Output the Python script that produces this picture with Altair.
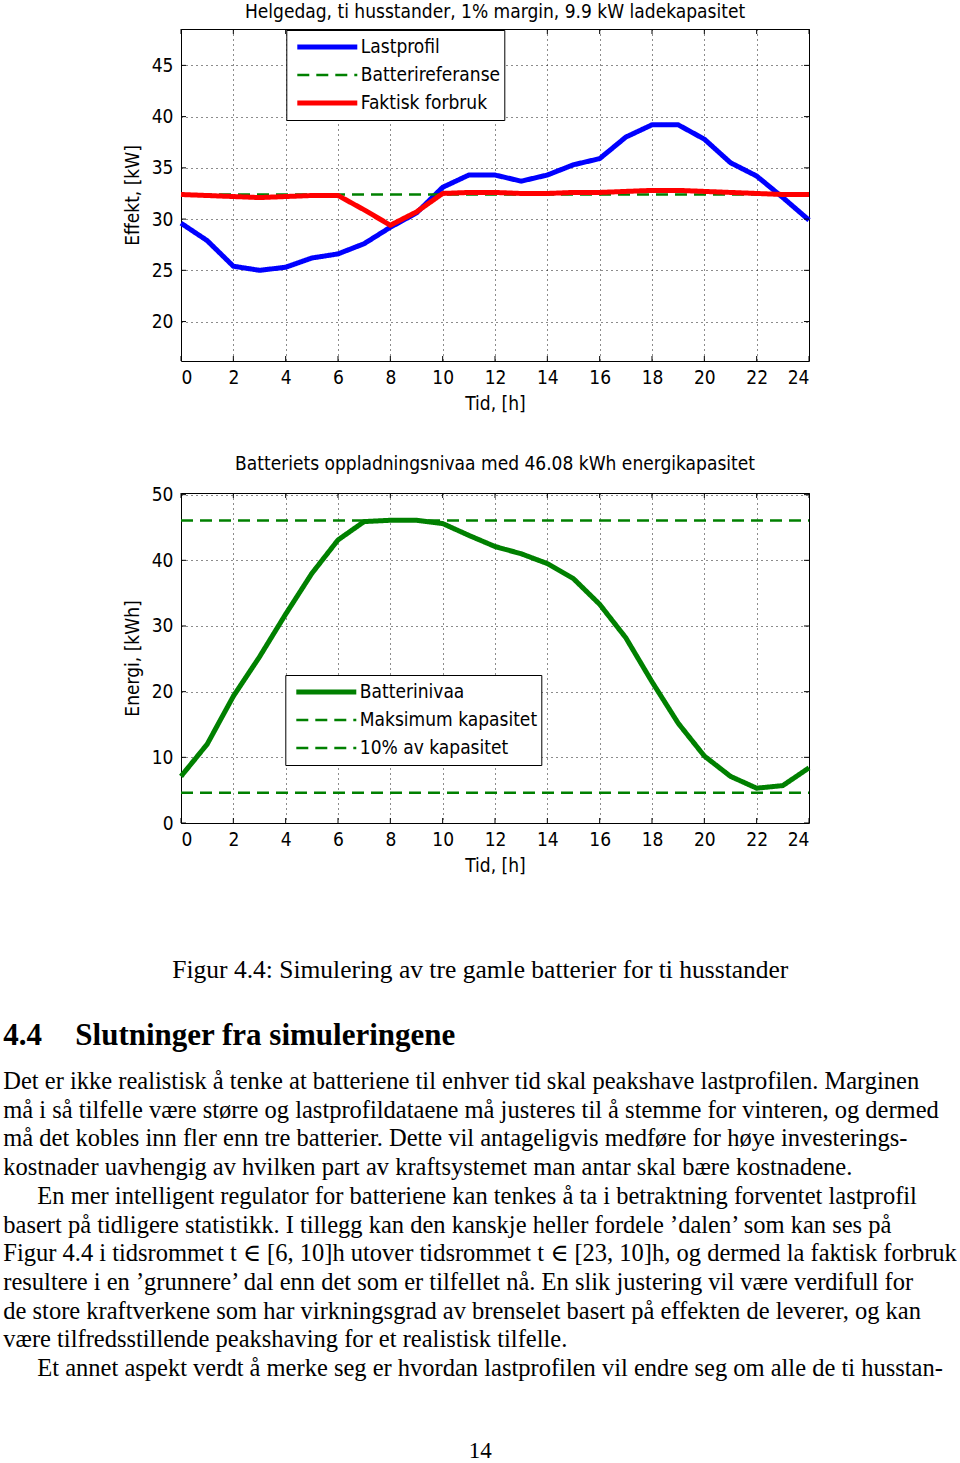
import altair as alt
import pandas as pd

# ---------------- data ----------------
hours = list(range(25))
lastprofil = [29.6, 27.9, 25.4, 25.0, 25.3, 26.2, 26.6, 27.6, 29.2, 30.6, 33.1, 34.3, 34.3,
              33.7, 34.3, 35.3, 35.9, 38.0, 39.2, 39.2, 37.8, 35.5, 34.2, 32.1, 29.9]
faktisk = [32.4, 32.3, 32.2, 32.1, 32.2, 32.3, 32.3, 30.9, 29.4, 30.7, 32.5, 32.6, 32.6,
           32.5, 32.5, 32.6, 32.6, 32.7, 32.8, 32.8, 32.7, 32.6, 32.5, 32.4, 32.4]
ref_hours = [0, 24]
batterireferanse = [32.4, 32.4]

batterinivaa = [7.1, 12.0, 19.3, 25.3, 31.8, 38.0, 43.1, 45.9, 46.1, 46.1, 45.6, 43.8, 42.1,
                41.0, 39.5, 37.2, 33.3, 28.2, 21.5, 15.2, 10.2, 7.1, 5.3, 5.7, 8.4]
maks_kap = [46.08, 46.08]
ti_prosent = [4.608, 4.608]

top_series = ["Lastprofil", "Batterireferanse", "Faktisk forbruk"]
bot_series = ["Batterinivaa", "Maksimum kapasitet", "10% av kapasitet"]

x_ticks = list(range(0, 25, 2))
top_y_ticks = [20, 25, 30, 35, 40, 45]
bot_y_ticks = [0, 10, 20, 30, 40, 50]

top_title = "Helgedag, ti husstander, 1% margin, 9.9 kW ladekapasitet"
bot_title = "Batteriets oppladningsnivaa med 46.08 kWh energikapasitet"

caption = "Figur 4.4: Simulering av tre gamle batterier for ti husstander"
heading_num = "4.4"
heading_txt = "Slutninger fra simuleringene"
para_lines = [
    "Det er ikke realistisk å tenke at batteriene til enhver tid skal peakshave lastprofilen. Marginen",
    "må i så tilfelle være større og lastprofildataene må justeres til å stemme for vinteren, og dermed",
    "må det kobles inn fler enn tre batterier. Dette vil antageligvis medføre for høye investerings-",
    "kostnader uavhengig av hvilken part av kraftsystemet man antar skal bære kostnadene.",
    "En mer intelligent regulator for batteriene kan tenkes å ta i betraktning forventet lastprofil",
    "basert på tidligere statistikk. I tillegg kan den kanskje heller fordele ’dalen’ som kan ses på",
    "Figur 4.4 i tidsrommet t ∈ [6, 10]h utover tidsrommet t ∈ [23, 10]h, og dermed la faktisk forbruk",
    "resultere i en ’grunnere’ dal enn det som er tilfellet nå. En slik justering vil være verdifull for",
    "de store kraftverkene som har virkningsgrad av brenselet basert på effekten de leverer, og kan",
    "være tilfredsstillende peakshaving for et realistisk tilfelle.",
    "Et annet aspekt verdt å merke seg er hvordan lastprofilen vil endre seg om alle de ti husstan-",
]
para_indent = [0, 0, 0, 0, 1, 0, 0, 0, 0, 0, 1]
page_number = "14"

# ---------------- styling ----------------
MFONT = "DejaVu Sans Condensed, Liberation Sans Narrow, sans-serif"
SERIF = "Liberation Serif, DejaVu Serif, serif"
FS = 19
W = 628
TICK = 5


def panel(df, series, colors, dashes, widths, ydom, yticks, ytitle, title, toff, h, lx, ly):
    thin = [s for s, w in zip(series, widths) if w < 4]
    width_expr = "(indexof(%s, datum.value) >= 0 ? 2.5 : 5)" % str(thin).replace("'", '"')
    leg = alt.Legend(
        title=None, orient="none", legendX=lx, legendY=ly,
        symbolType="stroke", symbolSize=3600, symbolOffset=4.5,
        symbolStrokeWidth={"expr": width_expr},
        labelFont=MFONT, labelFontSize=FS, labelColor="black", labelOffset=1,
        strokeColor="black", fillColor="white",
        padding=4, clipHeight=26, rowPadding=2, labelLimit=400,
    )
    x_enc = alt.X("t:Q", scale=alt.Scale(domain=[0, 24], nice=False),
                  axis=alt.Axis(values=x_ticks, title="Tid, [h]", format="d"))
    y_enc = alt.Y("v:Q", scale=alt.Scale(domain=ydom, nice=False, zero=False),
                  axis=alt.Axis(values=yticks, title=ytitle, format="d"))
    enc = dict(
        x=x_enc, y=y_enc,
        color=alt.Color("serie:N", scale=alt.Scale(domain=series, range=colors), legend=leg),
        strokeDash=alt.StrokeDash("serie:N", scale=alt.Scale(domain=series, range=dashes), legend=leg),
    )
    layers = []
    for s, w in zip(series, widths):
        layers.append(
            alt.Chart(df).transform_filter(alt.datum.serie == s)
            .mark_line(strokeJoin="round", strokeWidth=w)
            .encode(**enc)
        )
    # inward tick marks (MATLAB style) on all four sides
    xt = pd.DataFrame({"t": x_ticks})
    yt = pd.DataFrame({"v": yticks})
    tick = dict(color="black", strokeWidth=1)
    layers += [
        alt.Chart(xt).mark_rule(**tick).encode(x=x_enc, y=alt.value(h), y2=alt.value(h - TICK)),
        alt.Chart(xt).mark_rule(**tick).encode(x=x_enc, y=alt.value(0), y2=alt.value(TICK)),
        alt.Chart(yt).mark_rule(**tick).encode(y=y_enc, x=alt.value(0), x2=alt.value(TICK)),
        alt.Chart(yt).mark_rule(**tick).encode(y=y_enc, x=alt.value(W), x2=alt.value(W - TICK)),
    ]
    return alt.layer(*layers).properties(
        width=W, height=h,
        title=alt.TitleParams(title, offset=toff),
    )


top_df = pd.concat([
    pd.DataFrame({"t": hours, "v": lastprofil, "serie": "Lastprofil"}),
    pd.DataFrame({"t": ref_hours, "v": batterireferanse, "serie": "Batterireferanse"}),
    pd.DataFrame({"t": hours, "v": faktisk, "serie": "Faktisk forbruk"}),
], ignore_index=True)

bot_df = pd.concat([
    pd.DataFrame({"t": hours, "v": batterinivaa, "serie": "Batterinivaa"}),
    pd.DataFrame({"t": ref_hours, "v": maks_kap, "serie": "Maksimum kapasitet"}),
    pd.DataFrame({"t": ref_hours, "v": ti_prosent, "serie": "10% av kapasitet"}),
], ignore_index=True)

top = panel(top_df, top_series, ["#0000ff", "#008000", "#ff0000"],
            [[1, 0], [12, 7], [1, 0]], [5, 2.5, 5],
            [16.15, 48.55], top_y_ticks, "Effekt, [kW]", top_title, 7, 332, 105.3, 1)

bot = panel(bot_df, bot_series, ["#008000", "#008000", "#008000"],
            [[1, 0], [12, 7], [12, 7]], [5, 2.5, 2.5],
            [0, 50.25], bot_y_ticks, "Energi, [kWh]", bot_title, 12, 330, 104.3, 182)

# ---------------- text block ----------------
cap_layer = alt.Chart(pd.DataFrame({"txt": [caption]})).mark_text(
    align="center", baseline="middle", font=SERIF, fontSize=25.5, color="black"
).encode(text="txt:N", x=alt.value(299.3), y=alt.value(15))

head_num_layer = alt.Chart(pd.DataFrame({"txt": [heading_num]})).mark_text(
    align="left", baseline="middle", font=SERIF, fontSize=31, fontWeight="bold", color="black"
).encode(text="txt:N", x=alt.value(-177.7), y=alt.value(81))

head_txt_layer = alt.Chart(pd.DataFrame({"txt": [heading_txt]})).mark_text(
    align="left", baseline="middle", font=SERIF, fontSize=31, fontWeight="bold", color="black"
).encode(text="txt:N", x=alt.value(-105.7), y=alt.value(81))

para_df = pd.DataFrame({"row": list(range(len(para_lines))), "txt": para_lines, "ind": para_indent})
para_layer = alt.Chart(para_df).mark_text(
    align="left", baseline="middle", font=SERIF, fontSize=24.5, color="black"
).encode(
    text="txt:N",
    x=alt.X("ind:Q", scale=alt.Scale(domain=[0, 1], range=[-177.7, -143.7]), axis=None),
    y=alt.Y("row:Q", scale=alt.Scale(domain=[0, 10], range=[127, 414]), axis=None),
)

page_layer = alt.Chart(pd.DataFrame({"txt": [page_number]})).mark_text(
    align="center", baseline="middle", font=SERIF, fontSize=23, color="black"
).encode(text="txt:N", x=alt.value(299.3), y=alt.value(496))

text_block = alt.layer(cap_layer, head_num_layer, head_txt_layer, para_layer, page_layer).properties(
    width=W, height=480, view=alt.ViewBackground(strokeOpacity=0)
)

chart = alt.vconcat(top, bot, text_block, spacing=132, bounds="flush").resolve_scale(
    color="independent", strokeDash="independent"
).resolve_legend(
    color="independent", strokeDash="independent"
).properties(
    padding={"left": 3, "top": 2, "right": 0, "bottom": 0}, background="white"
).configure_view(stroke="black", strokeWidth=1).configure_axis(
    grid=True, gridColor="black", gridDash=[1, 4], gridOpacity=0.9, gridWidth=1,
    domain=False, ticks=False, tickSize=0,
    labelFont=MFONT, labelFontSize=FS, labelColor="black", labelPadding=7,
    titleFont=MFONT, titleFontSize=FS, titleFontWeight="normal", titleColor="black",
).configure_axisX(titlePadding=7).configure_axisY(labelPadding=8, titlePadding=9).configure_title(
    font=MFONT, fontSize=FS, fontWeight="normal", color="black", anchor="middle"
)

chart.save("out.html", embed_options={"renderer": "svg", "actions": False})
